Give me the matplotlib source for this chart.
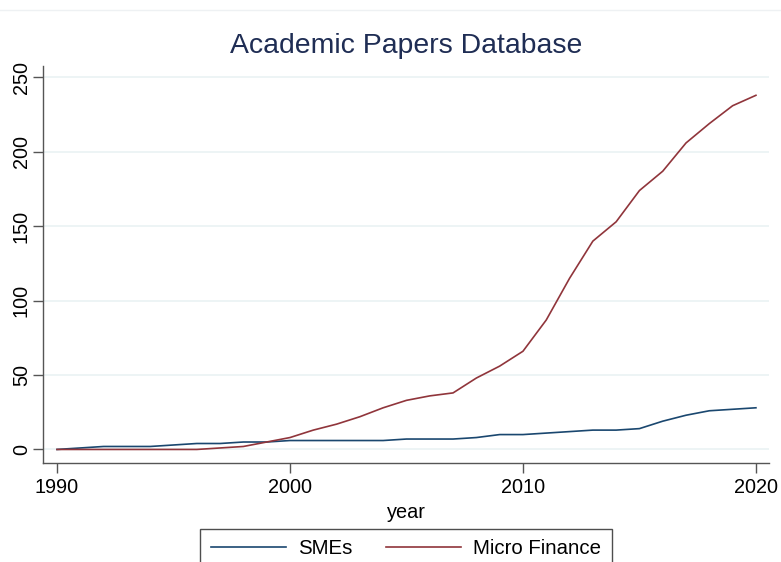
import matplotlib
matplotlib.use("Agg")
import matplotlib.pyplot as plt
from matplotlib.lines import Line2D

plt.rcParams["font.family"] = ["Liberation Sans", "DejaVu Sans"]

years = list(range(1990, 2021))
smes = [0, 1, 2, 2, 2, 3, 4, 4, 5, 5, 6, 6, 6, 6, 6, 7,
        7, 7, 8, 10, 10, 11, 12, 13, 13, 14, 19, 23, 26, 27, 28]
micro_finance = [0, 0, 0, 0, 0, 0, 0, 1, 2, 5, 8, 13, 17, 22, 28, 33,
                 36, 38, 48, 56, 66, 87, 115, 140, 153, 174, 187, 206, 219, 231, 238]
x_ticks = [1990, 2000, 2010, 2020]
y_ticks = [0, 50, 100, 150, 200, 250]

NAVY = "#1a476f"
MAROON = "#90353b"
GRID = "#eaf2f3"
AXIS = "#555555"

fig = plt.figure(figsize=(7.81, 5.62), dpi=100)
ax = fig.add_axes([0.0554, 0.1767, 0.9292, 0.7064])

ax.plot(years, smes, color=NAVY, lw=1.2, label="SMEs")
ax.plot(years, micro_finance, color=MAROON, lw=1.2, label="Micro Finance")

ax.set_xlim(1989.41, 2020.56)
ax.set_ylim(-8.9, 257.9)
ax.set_xticks(x_ticks)
ax.set_yticks(y_ticks)
ax.set_yticklabels([str(v) for v in y_ticks], rotation=90, va="center")
ax.tick_params(axis="both", labelsize=14.3, colors=AXIS, labelcolor="black",
               length=7, width=1)
ax.tick_params(axis="x", pad=4)
ax.tick_params(axis="y", pad=2)

ax.grid(axis="y", color=GRID, lw=1.2)
ax.set_axisbelow(True)
for side in ["top", "right"]:
    ax.spines[side].set_visible(False)
for side in ["left", "bottom"]:
    ax.spines[side].set_color(AXIS)
    ax.spines[side].set_linewidth(1)

ax.set_xlabel("year", fontsize=14.3, labelpad=4)
ax.set_title("Academic Papers Database", fontsize=20.4, color="#1f2d54", pad=9)

# faint graph region border at the top
fig.add_artist(Line2D([0, 1], [1 - 9.5 / 562] * 2, color="#eef1f3", lw=1,
                      transform=fig.transFigure))

leg = fig.legend(loc="upper center", bbox_to_anchor=(406 / 781, 1 - 529 / 562),
                 ncol=2, fontsize=14.7, frameon=True, fancybox=False,
                 handlelength=3.7, handletextpad=0.6, columnspacing=1.6,
                 borderpad=0.5, borderaxespad=0)
leg.get_frame().set_edgecolor("#222222")
leg.get_frame().set_linewidth(1)

fig.savefig("out.png", dpi=100)
